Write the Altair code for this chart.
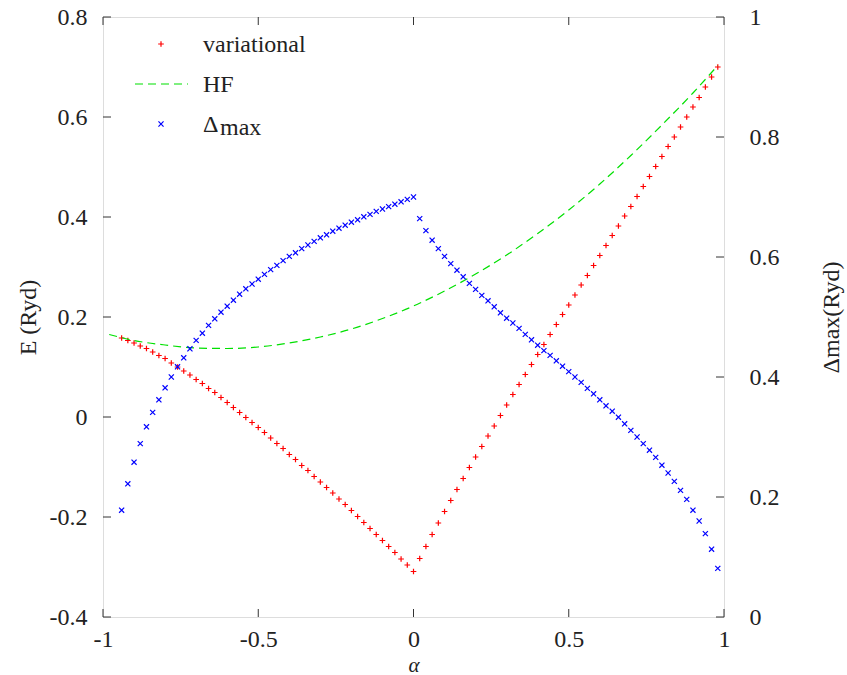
import altair as alt
import pandas as pd

# ---------------- data ----------------
alpha = [-0.94, -0.92, -0.90, -0.88, -0.86, -0.84, -0.82, -0.80, -0.78, -0.76,
         -0.74, -0.72, -0.70, -0.68, -0.66, -0.64, -0.62, -0.60, -0.58, -0.56,
         -0.54, -0.52, -0.50, -0.48, -0.46, -0.44, -0.42, -0.40, -0.38, -0.36,
         -0.34, -0.32, -0.30, -0.28, -0.26, -0.24, -0.22, -0.20, -0.18, -0.16,
         -0.14, -0.12, -0.10, -0.08, -0.06, -0.04, -0.02, 0.00,
         0.02, 0.04, 0.06, 0.08, 0.10, 0.12, 0.14, 0.16, 0.18, 0.20,
         0.22, 0.24, 0.26, 0.28, 0.30, 0.32, 0.34, 0.36, 0.38, 0.40,
         0.42, 0.44, 0.46, 0.48, 0.50, 0.52, 0.54, 0.56, 0.58, 0.60,
         0.62, 0.64, 0.66, 0.68, 0.70, 0.72, 0.74, 0.76, 0.78, 0.80,
         0.82, 0.84, 0.86, 0.88, 0.90, 0.92, 0.94, 0.96, 0.98]

E_variational = [0.158, 0.153, 0.148, 0.142, 0.137, 0.130, 0.123, 0.117, 0.108, 0.100,
                 0.092, 0.084, 0.075, 0.067, 0.057, 0.049, 0.039, 0.029, 0.019, 0.009,
                 -0.001, -0.011, -0.021, -0.031, -0.042, -0.053, -0.063, -0.075, -0.085, -0.097,
                 -0.107, -0.119, -0.130, -0.141, -0.152, -0.164, -0.175, -0.187, -0.199, -0.211,
                 -0.223, -0.235, -0.247, -0.259, -0.271, -0.284, -0.296, -0.309,
                 -0.283, -0.259, -0.235, -0.212, -0.189, -0.167, -0.145, -0.123, -0.101, -0.080,
                 -0.059, -0.038, -0.018, 0.003, 0.024, 0.045, 0.065, 0.085, 0.105, 0.125,
                 0.145, 0.165, 0.185, 0.205, 0.224, 0.244, 0.264, 0.283, 0.303, 0.323,
                 0.343, 0.363, 0.382, 0.402, 0.421, 0.441, 0.461, 0.481, 0.501, 0.521,
                 0.541, 0.560, 0.580, 0.600, 0.620, 0.639, 0.660, 0.680, 0.700]

Delta_max = [0.178, 0.222, 0.258, 0.289, 0.317, 0.341, 0.362, 0.382, 0.400, 0.417,
             0.432, 0.447, 0.461, 0.473, 0.486, 0.497, 0.508, 0.518, 0.528, 0.538,
             0.547, 0.555, 0.563, 0.571, 0.579, 0.586, 0.594, 0.601, 0.607, 0.614,
             0.620, 0.626, 0.632, 0.637, 0.643, 0.648, 0.653, 0.658, 0.662, 0.667,
             0.671, 0.676, 0.680, 0.684, 0.688, 0.692, 0.696, 0.700,
             0.664, 0.644, 0.628, 0.614, 0.601, 0.589, 0.578, 0.567, 0.556, 0.546,
             0.536, 0.527, 0.517, 0.507, 0.498, 0.490, 0.481, 0.471, 0.462, 0.453,
             0.444, 0.436, 0.427, 0.418, 0.409, 0.400, 0.391, 0.381, 0.372, 0.362,
             0.352, 0.343, 0.333, 0.322, 0.311, 0.300, 0.289, 0.278, 0.266, 0.253,
             0.240, 0.226, 0.211, 0.196, 0.178, 0.160, 0.139, 0.113, 0.081]

hf_alpha = [-0.98, -0.9, -0.8, -0.7, -0.6, -0.5, -0.4, -0.3, -0.2, -0.1, 0.0,
            0.1, 0.2, 0.3, 0.4, 0.5, 0.6, 0.7, 0.8, 0.9, 0.98]
hf_E = [0.165, 0.153, 0.144, 0.138, 0.137, 0.140, 0.148, 0.160, 0.176, 0.197, 0.222,
        0.252, 0.286, 0.324, 0.367, 0.414, 0.466, 0.523, 0.584, 0.648, 0.703]

x_ticks = [-1, -0.5, 0, 0.5, 1]
e_ticks = [-0.4, -0.2, 0, 0.2, 0.4, 0.6, 0.8]
d_ticks = [0, 0.2, 0.4, 0.6, 0.8, 1]
legend_labels = ["variational", "HF", "Δ", "max"]

# ---------------- styling ----------------
W, H = 621, 600
FONT = "Liberation Serif, DejaVu Serif, Times New Roman, serif"
TXT = "#222222"
FS = 24
RED, GREEN, BLUE = "#ff0000", "#00e000", "#0000ff"
PLUS = "M-1,0L1,0M0,-1L0,1"
CROSS = "M-1,-1L1,1M-1,1L1,-1"
TL = 8  # inward tick length

df = pd.DataFrame({"x": alpha, "E": E_variational, "D": Delta_max})
df_hf = pd.DataFrame({"x": hf_alpha, "E": hf_E})
df_xt = pd.DataFrame({"x": x_ticks})
df_et = pd.DataFrame({"E": e_ticks})
df_dt = pd.DataFrame({"D": d_ticks})

xs = alt.Scale(domain=[-1, 1], nice=False, zero=False)
ysE = alt.Scale(domain=[-0.4, 0.8], nice=False, zero=False)
ysD = alt.Scale(domain=[0, 1], nice=False, zero=False)

common_axis = dict(ticks=False, tickSize=0, domain=False, grid=False,
                   labelFont=FONT, labelFontSize=FS, labelColor=TXT,
                   labelExpr="'' + datum.value", labelOverlap=False, labelFlush=False,
                   titleFont=FONT, titleColor=TXT, titleFontWeight="normal")

xaxis = alt.Axis(values=x_ticks, labelPadding=10, title="α", titleFontStyle="italic",
                 titleFontSize=21, titleX=W / 2, titleY=54, titleAlign="center",
                 titleBaseline="alphabetic", **common_axis)
xenc = alt.X("x:Q", scale=xs, axis=xaxis)

axisE = alt.Axis(orient="left", values=e_ticks, labelPadding=16, title="E (Ryd)",
                 titleFontSize=FS, titleAngle=270, titleX=-75, titleY=H / 2,
                 titleAlign="center", titleBaseline="middle", **common_axis)
axisD = alt.Axis(orient="right", values=d_ticks, labelPadding=25, title="Δmax(Ryd)",
                 titleFontSize=FS, titleAngle=270, titleX=107, titleY=H / 2,
                 titleAlign="center", titleBaseline="middle", **common_axis)

MS_PLUS, MS_CROSS, MSW = 32, 26, 1.2

red = alt.Chart(df).mark_point(shape=PLUS, size=MS_PLUS, filled=False, strokeWidth=MSW,
                               color=RED, opacity=1).encode(
    x=xenc, y=alt.Y("E:Q", scale=ysE, axis=axisE))

hf = alt.Chart(df_hf).mark_line(color=GREEN, strokeWidth=1.2, strokeDash=[8, 5],
                                interpolate="monotone").encode(
    x=xenc, y=alt.Y("E:Q", scale=ysE, axis=None))

blue = alt.Chart(df).mark_point(shape=CROSS, size=MS_CROSS, filled=False, strokeWidth=MSW,
                                color=BLUE, opacity=1).encode(
    x=xenc, y=alt.Y("D:Q", scale=ysD, axis=axisD))

tick_color = "#333333"
xt_bottom = alt.Chart(df_xt).mark_rule(color=tick_color, strokeWidth=1).encode(
    x=xenc, y=alt.value(H), y2=alt.value(H - TL))
xt_top = alt.Chart(df_xt).mark_rule(color=tick_color, strokeWidth=1).encode(
    x=xenc, y=alt.value(0), y2=alt.value(TL))
et_left = alt.Chart(df_et).mark_rule(color=tick_color, strokeWidth=1).encode(
    y=alt.Y("E:Q", scale=ysE, axis=None), x=alt.value(0), x2=alt.value(TL))
dt_right = alt.Chart(df_dt).mark_rule(color=tick_color, strokeWidth=1).encode(
    y=alt.Y("D:Q", scale=ysD, axis=None), x=alt.value(W - TL), x2=alt.value(W))

# ---------------- in-plot key ----------------
def key_text(label, xpos, ypos):
    return alt.Chart(pd.DataFrame({"t": [label]})).mark_text(
        font=FONT, fontSize=FS, color=TXT, align="left", baseline="alphabetic"
    ).encode(text="t:N", x=alt.value(xpos), y=alt.value(ypos))

one = pd.DataFrame({"k": [0]})
key_red = alt.Chart(one).mark_point(shape=PLUS, size=MS_PLUS, filled=False, strokeWidth=MSW,
                                    color=RED, opacity=1).encode(
    x=alt.value(58), y=alt.value(27))
key_hf = alt.Chart(one).mark_rule(color=GREEN, strokeWidth=1.2, strokeDash=[8, 5]).encode(
    x=alt.value(32), x2=alt.value(85), y=alt.value(67))
key_blue = alt.Chart(one).mark_point(shape=CROSS, size=MS_CROSS, filled=False, strokeWidth=MSW,
                                     color=BLUE, opacity=1).encode(
    x=alt.value(58), y=alt.value(107))

chart = alt.layer(
    red, hf, blue, xt_bottom, xt_top, et_left, dt_right,
    key_red, key_hf, key_blue,
    key_text(legend_labels[0], 100, 35),
    key_text(legend_labels[1], 100, 75),
    key_text(legend_labels[2], 100, 115),
    key_text(legend_labels[3], 117, 118),
).resolve_scale(y="independent").properties(
    width=W, height=H,
    padding={"left": 103, "top": 17, "right": 123, "bottom": 58},
    autosize=alt.AutoSizeParams(type="none"),
).configure_view(stroke="black", strokeWidth=1.3).configure(background="white")

chart.save("out.html", embed_options={"renderer": "svg", "actions": False})
